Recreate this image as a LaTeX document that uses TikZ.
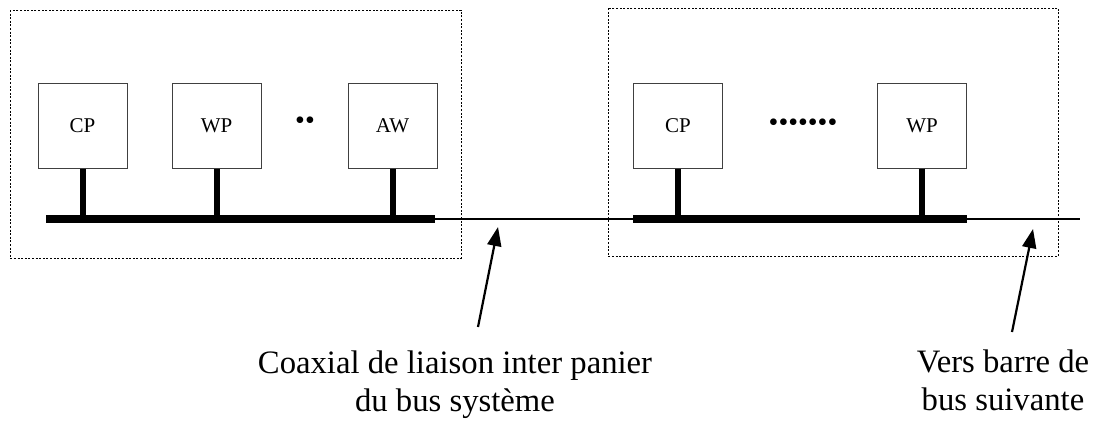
\documentclass[tikz,border=0pt]{standalone}
\usepackage{fontspec}
\setmainfont{Liberation Serif}
\usetikzlibrary{arrows.meta}
\tikzset{
  unit/.style={draw=black!75, line width=1pt, minimum width=89pt, minimum height=85pt,
    inner sep=0pt, font=\fontsize{21}{24}\selectfont},
  rack/.style={draw=black, line width=0.9pt, dash pattern=on 2pt off 1.6pt},
  bus/.style={line width=8pt},
  stem/.style={line width=6pt},
  coax/.style={line width=2pt},
  pointer/.style={line width=2.2pt, -{Triangle[length=19pt,width=14pt]}},
  caption/.style={align=center, font=\fontsize{32.7}{38}\selectfont, inner sep=0pt},
  ellipsis/.style={font=\fontsize{28}{28}\selectfont, inner sep=0pt}
}
\begin{document}
\begin{tikzpicture}[x=1pt,y=-1pt]
\useasboundingbox (0,0) rectangle (1102,423);

% racks
\draw[rack] (10,10) rectangle (461,258);
\draw[rack] (608,8) rectangle (1058,256);

% first rack units
\node[unit] (cp1) at (82.5,125.5) {CP};
\node[unit] (wp1) at (216.5,125.5) {WP};
\node[unit] (aw1) at (392.5,125.5) {AW};
\node[ellipsis] (dots1) at (305,123) {••};

% second rack units
\node[unit] (cp2) at (678,125.5) {CP};
\node[unit] (wp2) at (922,125.5) {WP};
\node[ellipsis] (dots2) at (803,125) {•••••••};

% bus bars and coaxial links
\coordinate (b1w) at (46,218.5);
\coordinate (b1e) at (435,218.5);
\coordinate (b2w) at (633,218.5);
\coordinate (b2e) at (967,218.5);
\coordinate (next) at (1080,218.5);

\draw[coax] (b1e) -- (b2w);
\draw[coax] (b2e) -- (next);
\draw[bus] (b1w) -- (b1e);
\draw[bus] (b2w) -- (b2e);

% stems from units down to the bus
\draw[stem] (cp1.south) -- (cp1.south |- b1w);
\draw[stem] (wp1.south) -- (wp1.south |- b1w);
\draw[stem] (aw1.south) -- (aw1.south |- b1w);
\draw[stem] (cp2.south) -- (cp2.south |- b2w);
\draw[stem] (wp2.south) -- (wp2.south |- b2w);

% captions and pointers
\node[caption, anchor=base] (lab1) at (455,411) {Coaxial de liaison inter panier\\du bus système};
\node[caption, anchor=base] (lab2) at (1003,410) {Vers barre de\\bus suivante};
\coordinate (t1) at (478,327);
\coordinate (h1) at (498,227);
\coordinate (t2) at (1012,332);
\coordinate (h2) at (1033,229);
\draw[pointer] (t1) -- (h1);
\draw[pointer] (t2) -- (h2);
\end{tikzpicture}
\end{document}
